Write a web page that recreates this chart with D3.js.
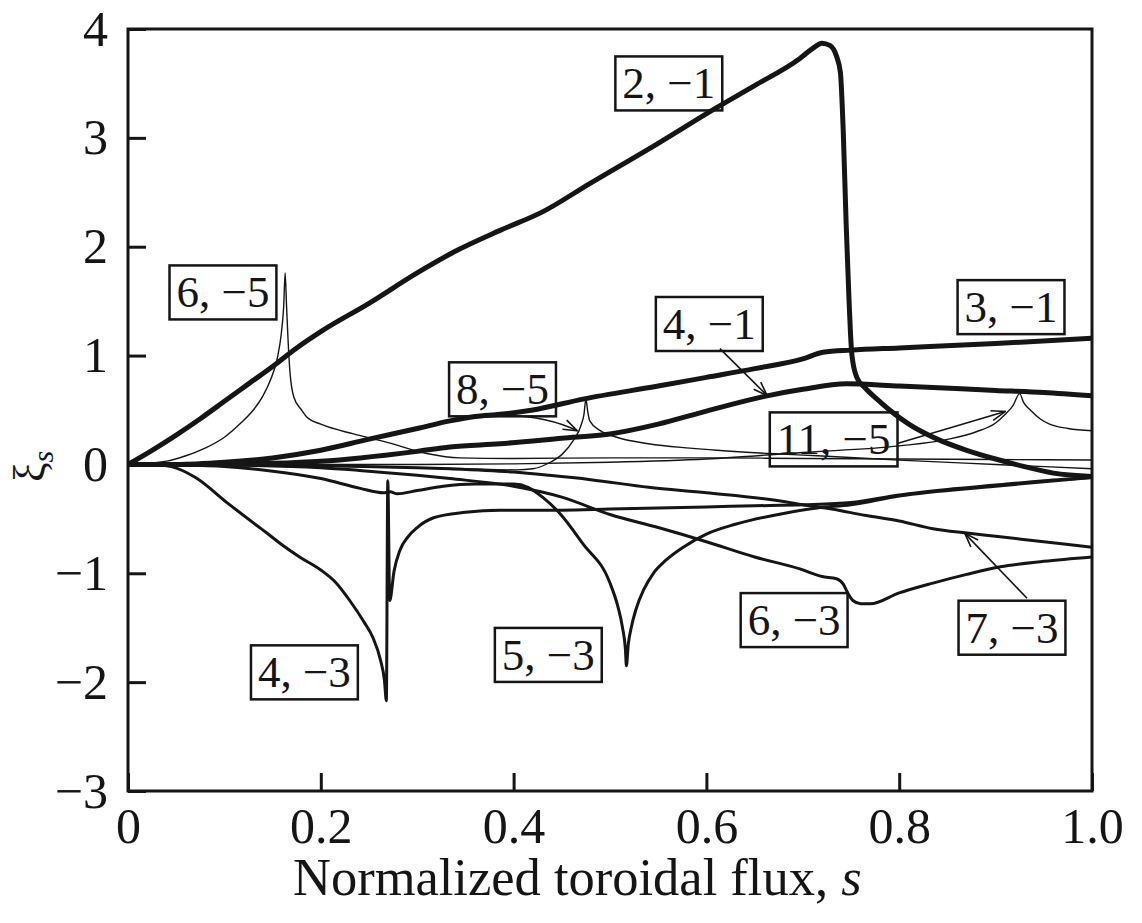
<!DOCTYPE html>
<html><head><meta charset="utf-8">
<script src="https://cdn.jsdelivr.net/npm/d3@7"></script>
<style>body{margin:0;background:#fff}</style>
</head><body>
<svg id="c" width="1142" height="923"></svg>
<script>
// ---------- data ----------
const xTicks = [0, 0.2, 0.4, 0.6, 0.8, 1.0];
const xTickLabels = ["0", "0.2", "0.4", "0.6", "0.8", "1.0"];
const yTicks = [4, 3, 2, 1, 0, -1, -2, -3];
const yTickLabels = ["4", "3", "2", "1", "0", "\u22121", "\u22122", "\u22123"];

const s_2_1 = [0,0.025,0.05,0.075,0.1,0.125,0.15,0.175,0.2,0.25,0.3,0.34,0.386,0.43,0.479,0.55,0.611,0.65,0.697,0.71,0.72,0.728,0.735,0.739,0.742,0.745,0.748,0.7495,0.751,0.756,0.765,0.777,0.79,0.81,0.84,0.87,0.9,0.93,0.96,1.0];
const v_2_1 = [0,0.13,0.27,0.42,0.58,0.74,0.9,1.07,1.22,1.48,1.76,1.96,2.15,2.32,2.58,2.95,3.28,3.48,3.73,3.82,3.87,3.85,3.75,3.6,3.05,2.2,1.5,1.2,1.0,0.8,0.7,0.6,0.5,0.37,0.23,0.13,0.05,-0.02,-0.08,-0.11];

const s_3_1 = [0,0.05,0.1,0.15,0.2,0.249,0.3,0.334,0.36,0.386,0.42,0.472,0.55,0.6,0.65,0.7,0.721,0.75,0.8,0.9,1.0];
const v_3_1 = [0,0.0,0.02,0.06,0.13,0.23,0.33,0.4,0.44,0.46,0.5,0.6,0.72,0.8,0.88,0.97,1.03,1.05,1.07,1.11,1.16];

const s_4_1 = [0,0.1,0.15,0.2,0.241,0.3,0.334,0.386,0.45,0.5,0.55,0.6,0.663,0.7,0.745,0.8,0.9,0.95,1.0];
const v_4_1 = [0,0.0,0.01,0.03,0.06,0.12,0.16,0.19,0.24,0.28,0.37,0.49,0.63,0.69,0.74,0.72,0.68,0.66,0.63];

const s_6_5 = [0,0.04,0.06,0.08,0.1,0.117,0.13,0.14,0.148,0.155,0.159,0.1615,0.163,0.1645,0.166,0.168,0.172,0.18,0.186,0.2,0.234,0.27,0.31,0.344,0.4,0.5,0.6,0.7,0.8,0.9,1.0];
const v_6_5 = [0,0.03,0.08,0.15,0.25,0.38,0.5,0.63,0.78,0.98,1.2,1.45,1.76,1.45,1.15,0.85,0.62,0.5,0.43,0.37,0.28,0.2,0.1,0.06,0.055,0.06,0.06,0.055,0.05,0.045,0.04];

const s_8_5 = [0,0.1,0.2,0.3,0.35,0.403,0.42,0.438,0.45,0.462,0.47,0.473,0.475,0.477,0.479,0.49,0.507,0.54,0.583,0.611,0.666,0.715,0.8,0.9,1.0];
const v_8_5 = [0,-0.005,-0.015,-0.03,-0.04,-0.05,-0.04,0.02,0.09,0.22,0.36,0.46,0.6,0.48,0.4,0.31,0.25,0.19,0.15,0.13,0.1,0.08,0.04,0.0,-0.04];

const s_11_5 = [0,0.2,0.3,0.4,0.5,0.6,0.7,0.8,0.85,0.88,0.9,0.91,0.918,0.925,0.929,0.936,0.946,0.956,0.975,1.0];
const v_11_5 = [0,0.0,0.0,0.005,0.02,0.05,0.11,0.17,0.23,0.3,0.38,0.46,0.54,0.65,0.57,0.5,0.42,0.37,0.33,0.31];

const s_4_3 = [0,0.03,0.045,0.07,0.104,0.138,0.144,0.16,0.178,0.2,0.215,0.23,0.245,0.254,0.262,0.266,0.268,0.2695,0.2715,0.276,0.282,0.29,0.3,0.317,0.35,0.386,0.45,0.5,0.55,0.6,0.65,0.7,0.75,0.8,0.85,0.9,0.95,1.0];
const v_4_3 = [0,-0.005,-0.02,-0.12,-0.36,-0.59,-0.63,-0.74,-0.85,-0.97,-1.08,-1.25,-1.45,-1.59,-1.8,-1.98,-2.17,-0.15,-1.25,-0.98,-0.79,-0.67,-0.58,-0.49,-0.44,-0.42,-0.42,-0.41,-0.40,-0.39,-0.38,-0.37,-0.35,-0.28,-0.23,-0.19,-0.15,-0.12];

const s_5_3 = [0,0.05,0.1,0.144,0.2,0.241,0.265,0.272,0.279,0.3,0.327,0.36,0.4,0.415,0.43,0.448,0.472,0.5,0.508,0.513,0.516,0.517,0.519,0.522,0.527,0.535,0.545,0.558,0.576,0.6,0.63,0.68,0.715,0.75,0.8,0.9,1.0];
const v_5_3 = [0,-0.005,-0.02,-0.055,-0.13,-0.22,-0.26,-0.25,-0.27,-0.24,-0.2,-0.18,-0.18,-0.21,-0.3,-0.45,-0.73,-1.09,-1.3,-1.5,-1.7,-1.85,-1.65,-1.5,-1.33,-1.15,-1.0,-0.88,-0.76,-0.64,-0.55,-0.45,-0.4,-0.37,-0.29,-0.2,-0.12];

const s_6_3 = [0,0.1,0.2,0.24,0.3,0.334,0.4,0.45,0.5,0.55,0.6,0.65,0.697,0.72,0.735,0.742,0.746,0.752,0.76,0.77,0.8,0.835,0.87,0.905,0.95,1.0];
const v_6_3 = [0,-0.005,-0.03,-0.055,-0.1,-0.13,-0.2,-0.3,-0.46,-0.58,-0.71,-0.85,-0.96,-1.03,-1.05,-1.1,-1.17,-1.25,-1.28,-1.28,-1.18,-1.09,-1.01,-0.94,-0.89,-0.85];

const s_7_3 = [0,0.1,0.2,0.3,0.334,0.4,0.437,0.48,0.54,0.6,0.68,0.7,0.73,0.766,0.8,0.835,0.87,0.9,0.95,1.0];
const v_7_3 = [0,0.0,-0.01,-0.03,-0.04,-0.07,-0.1,-0.14,-0.21,-0.26,-0.34,-0.37,-0.41,-0.47,-0.52,-0.59,-0.63,-0.66,-0.71,-0.76];

// label boxes: text, centre (s, xi)
const labelText = ["2, \u22121","6, \u22125","8, \u22125","4, \u22121","11, \u22125","3, \u22121","4, \u22123","5, \u22123","6, \u22123","7, \u22123"];
const labelS   = [0.561, 0.0985, 0.3885, 0.603, 0.732, 0.916, 0.183, 0.436, 0.691, 0.917];
const labelV   = [3.50, 1.58, 0.69, 1.29, 0.23, 1.445, -1.91, -1.75, -1.43, -1.50];

// arrows: start (s, xi) -> end (s, xi), optional control point
const arrowFrom = [[0.614,1.064],[0.389,0.45],[0.798,0.193],[0.9326,-1.229]];
const arrowCtrl = [null,[0.4326,0.45],null,null];
const arrowTo   = [[0.663,0.633],[0.466,0.31],[0.910,0.486],[0.868,-0.633]];

// ---------- drawing ----------
const svg = d3.select("#c");
const FONT = "'Liberation Serif','Times New Roman',serif";
const L = 128, R = 1092, T = 29, B = 791;
const x = d3.scaleLinear().domain([0, 1]).range([L, R]);
const y = d3.scaleLinear().domain([-3, 4]).range([B, T]);
const ink = "#151515";

const series = [
  {s: s_4_3, v: v_4_3, w: 3},
  {s: s_5_3, v: v_5_3, w: 3},
  {s: s_6_3, v: v_6_3, w: 3},
  {s: s_7_3, v: v_7_3, w: 3},
  {s: s_6_5, v: v_6_5, w: 1.4},
  {s: s_8_5, v: v_8_5, w: 1.4},
  {s: s_11_5, v: v_11_5, w: 1.4},
  {s: s_4_1, v: v_4_1, w: 5},
  {s: s_3_1, v: v_3_1, w: 5},
  {s: s_2_1, v: v_2_1, w: 5}
];

svg.append("clipPath").attr("id","clip").append("rect")
  .attr("x", L).attr("y", T).attr("width", R - L).attr("height", B - T);

const line = d3.line().x(d => x(d[0])).y(d => y(d[1])).curve(d3.curveMonotoneX);
const gl = svg.append("g").attr("clip-path","url(#clip)");
series.forEach(sr => {
  gl.append("path")
    .attr("d", line(sr.s.map((s, i) => [s, sr.v[i]])))
    .attr("fill","none").attr("stroke", ink)
    .attr("stroke-width", sr.w).attr("stroke-linejoin","round").attr("stroke-linecap","round");
});

// axes
const yAxis = d3.axisLeft(y).tickValues(yTicks)
  .tickFormat((d, i) => yTickLabels[i]).tickSizeInner(-18).tickSizeOuter(0).tickPadding(20);
const gy = svg.append("g").attr("transform", `translate(${L},0)`).call(yAxis);
const xAxis = d3.axisBottom(x).tickValues(xTicks)
  .tickFormat((d, i) => xTickLabels[i]).tickSizeInner(-18).tickSizeOuter(0).tickPadding(16);
const gx = svg.append("g").attr("transform", `translate(0,${B})`).call(xAxis);
[gx, gy].forEach(g => {
  g.select(".domain").remove();
  g.selectAll(".tick line").attr("stroke", ink).attr("stroke-width", 3);
  g.selectAll(".tick text").attr("fill", ink).style("font-family", FONT).style("font-size","50px");
});

// frame
svg.append("rect").attr("x", L).attr("y", T).attr("width", R - L).attr("height", B - T)
  .attr("fill","none").attr("stroke", ink).attr("stroke-width", 3);

// axis titles
svg.append("text").attr("x", 293).attr("y", 895)
  .style("font-family", FONT).style("font-size","52.5px").attr("fill", ink)
  .html('Normalized toroidal flux, <tspan font-style="italic">s</tspan>');

const yt = svg.append("text").attr("transform","translate(44,482) rotate(-90)")
  .style("font-family", FONT).style("font-size","44px").attr("fill", ink);
yt.append("tspan").text("\u03BE");
yt.append("tspan").attr("font-style","italic").attr("font-size","30px").attr("dy", 9).text("s");

// label boxes
labelText.forEach((t, i) => {
  const g = svg.append("g").attr("transform", `translate(${x(labelS[i])},${y(labelV[i])})`);
  const txt = g.append("text").attr("text-anchor","middle").attr("y", 15)
    .style("font-family", FONT).style("font-size","45px").attr("fill", ink).text(t);
  const w = txt.node().getComputedTextLength();
  g.insert("rect","text").attr("x", -w/2 - 7).attr("y", -27).attr("width", w + 14).attr("height", 54)
    .attr("fill","none").attr("stroke", ink).attr("stroke-width", 2.5);
});

// arrows
const defs = svg.append("defs");
defs.append("marker").attr("id","ah").attr("viewBox","0 0 16 12").attr("refX",15).attr("refY",6)
  .attr("markerWidth",16).attr("markerHeight",12).attr("markerUnits","userSpaceOnUse").attr("orient","auto")
  .append("path").attr("d","M1,1 L15,6 L1,11").attr("fill","none").attr("stroke", ink).attr("stroke-width",1.6);
arrowFrom.forEach((f, i) => {
  const t = arrowTo[i], c = arrowCtrl[i];
  const p = d3.path();
  p.moveTo(x(f[0]), y(f[1]));
  if (c) p.quadraticCurveTo(x(c[0]), y(c[1]), x(t[0]), y(t[1]));
  else p.lineTo(x(t[0]), y(t[1]));
  svg.append("path").attr("d", p.toString()).attr("fill","none").attr("stroke", ink)
    .attr("stroke-width", 1.6).attr("marker-end","url(#ah)");
});
</script>
</body></html>
